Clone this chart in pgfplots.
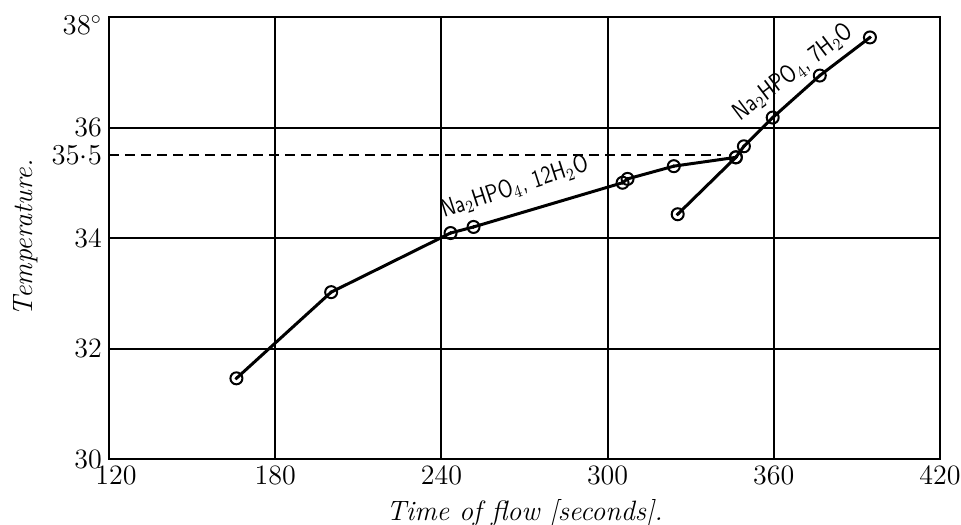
\documentclass[border=0pt]{standalone}
\usepackage{pgfplots}
\usepackage{pgfplotstable}
\pgfplotsset{compat=1.18}
\pgfplotstableread{
x y
166.0 31.46
200.2 33.02
243.3 34.09
251.6 34.20
305.4 35.00
307.2 35.07
323.9 35.30
346.3 35.46
}\dodeca
\pgfplotstableread{
x y
325.3 34.43
346.3 35.46
349.2 35.66
359.6 36.18
376.6 36.94
394.7 37.63
}\hepta
\begin{document}
\begin{tikzpicture}
\begin{axis}[
  name=ax,
  scale only axis, width=415.5pt, height=221pt,
  xmin=120, xmax=420, ymin=30, ymax=38,
  xtick={120,180,240,300,360,420},
  xticklabels={\hspace*{7pt}120,180,240,300,360,420},
  ytick={30,32,34,36,38},
  yticklabels={30,32,34,36,{}},
  extra y ticks={35.5}, extra y tick labels={$35{\cdot}5$},
  extra y tick style={grid=none},
  grid=major, major grid style={black, line width=1pt},
  axis line style={black, line width=1pt},
  major tick length=0pt,
  tick label style={font=\fontsize{14}{16}\selectfont},
  xlabel={\textit{Time of flow [seconds].}},
  ylabel={\textit{Temperature.}},
  label style={font=\fontsize{14}{16}\selectfont},
  clip=false,
]
\addplot[black, line width=0.9pt, dash pattern=on 5pt off 3pt] coordinates {(120,35.5) (341,35.5)};
\addplot[black, line width=1.5pt, mark=o, mark size=3pt, mark options={solid, fill=white, line width=1pt}] table[x=x,y=y] {\dodeca};
\addplot[black, only marks, mark=*, mark size=0.7pt] table[x=x,y=y] {\dodeca};
\addplot[black, line width=1.5pt, mark=o, mark size=3pt, mark options={solid, fill=white, line width=1pt}] table[x=x,y=y] {\hepta};
\addplot[black, only marks, mark=*, mark size=0.7pt] table[x=x,y=y] {\hepta};
\node[anchor=east, font=\fontsize{14}{16}\selectfont, yshift=-4pt] at (rel axis cs:0,1) {$38^{\circ}$};
\node[rotate=18, font=\fontsize{10}{12}\sffamily, yscale=1.25, inner sep=0pt] at (axis cs:266.5,34.92) {Na$_2$HPO$_4$, 12H$_2$O};
\node[rotate=37, font=\fontsize{10}{12}\sffamily, yscale=1.25, inner sep=0pt] at (axis cs:367,37.0) {Na$_2$HPO$_4$, 7H$_2$O};
\end{axis}
\pgfresetboundingbox
\path (ax.south west) +(-54.5pt,-32.5pt) (ax.north east) +(10.5pt,8.5pt);
\end{tikzpicture}
\end{document}
